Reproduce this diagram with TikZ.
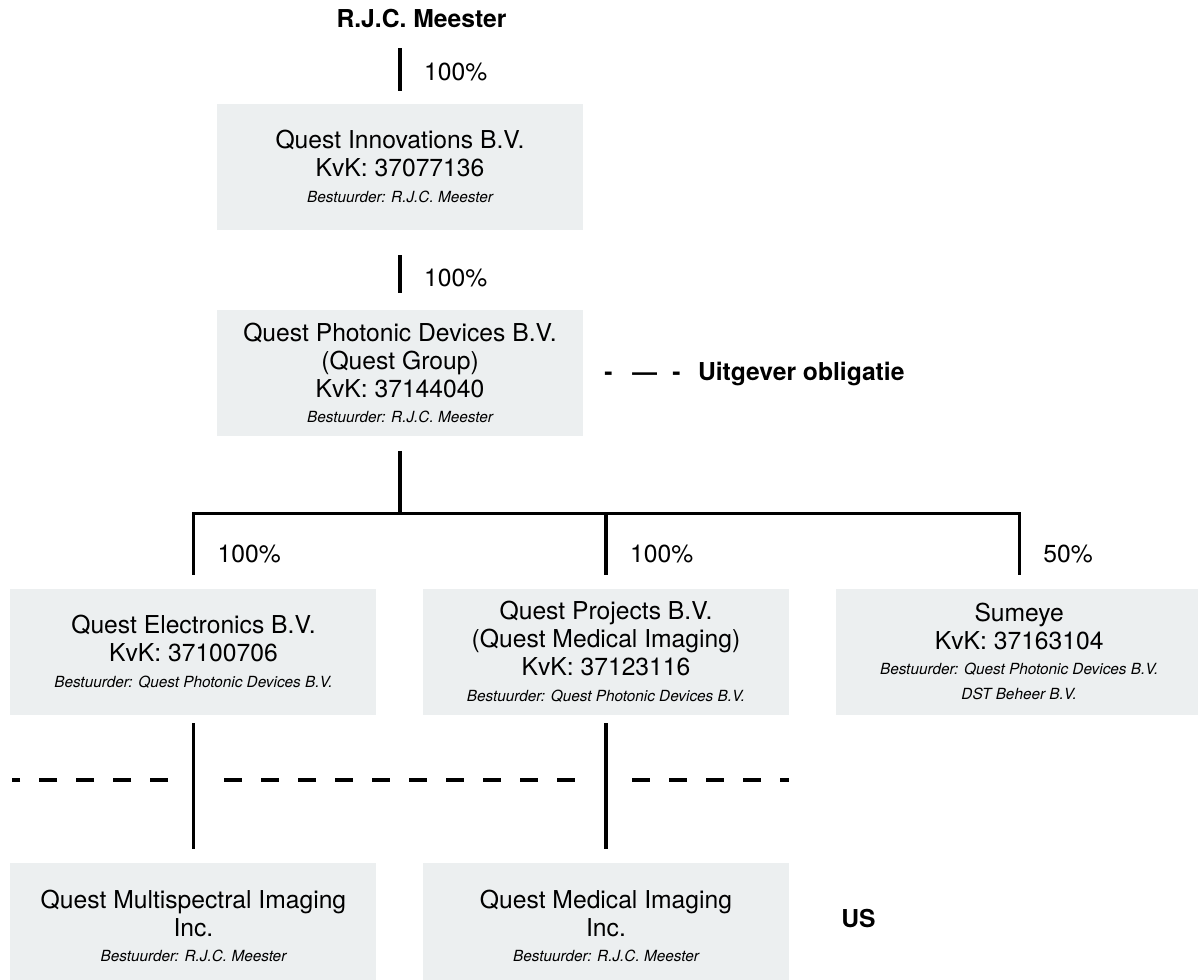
\documentclass[tikz,border=0pt]{standalone}
\usepackage{fontspec}
\setmainfont{TeX Gyre Heros}
\usetikzlibrary{positioning}
\definecolor{boxgray}{RGB}{236,239,240}
\newcommand{\klein}[1]{{\fontsize{11.5}{14}\selectfont\itshape #1}}

\begin{document}
\begin{tikzpicture}[x=0.75pt, y=-0.75pt,
	font=\fontsize{18.5}{21}\selectfont,
	company/.style={fill=boxgray, minimum width=274.5pt, minimum height=94.5pt, inner sep=0pt, align=center},
	heading/.style={font=\fontsize{18.5}{21}\selectfont\bfseries, inner sep=0pt},
	link/.style={line width=2.3pt},
	pct/.style={anchor=west, inner sep=0pt, xshift=17pt},
	border/.style={line width=2.4pt, dash pattern=on 13.5pt off 14.25pt}]
	\useasboundingbox (0,0) rectangle (1198,979);

	\node[company] (inno) at (400,166.5) {Quest Innovations B.V.\\ KvK: 37077136\\[-2pt] \klein{Bestuurder: R.J.C. Meester}};
	\node[company, below=60pt of inno] (photo) {Quest Photonic Devices B.V.\\ (Quest Group)\\ KvK: 37144040\\[-2pt] \klein{Bestuurder: R.J.C. Meester}};
	\node[company, below=114pt of photo, xshift=154.5pt] (proj) {Quest Projects B.V.\\ (Quest Medical Imaging)\\ KvK: 37123116\\[-2pt] \klein{Bestuurder: Quest Photonic Devices B.V.}};
	\node[company, left=34.5pt of proj] (elec) {Quest Electronics B.V.\\ KvK: 37100706\\[-2pt] \klein{Bestuurder: Quest Photonic Devices B.V.}};
	\node[company, right=35pt of proj] (sum) {Sumeye\\ KvK: 37163104\\[-2pt] \klein{Bestuurder: Quest Photonic Devices B.V.}\\[-2pt] \klein{DST Beheer B.V.}};
	\node[company, below=111pt of elec] (multi) {Quest Multispectral Imaging\\ Inc.\\[-2pt] \klein{Bestuurder: R.J.C. Meester}};
	\node[company, below=111pt of proj] (medi) {Quest Medical Imaging\\ Inc.\\[-2pt] \klein{Bestuurder: R.J.C. Meester}};

	\node[heading, anchor=base] (meester) at (421.5,27) {R.J.C. Meester};
	\node[heading, anchor=base west] (obl) at (604,380) {-\hspace{15pt}\textemdash\hspace{11.5pt}-\hspace{13pt}Uitgever obligatie};
	\node[heading, anchor=base west] (us) at (841,927) {US};

	\coordinate (own) at (400,48);
	\coordinate[below=58pt of photo] (fork);

	\draw[link, shorten >=9.4pt] (own) -- (inno) node[pct, pos=0.43] {100\%};
	\draw[link, shorten <=19pt, shorten >=12.4pt] (inno) -- (photo) node[pct, pos=0.6] {100\%};
	\draw[link, shorten <=10.9pt] (photo) -- (fork);
	\draw[link, line cap=rect] (elec.north |- fork) -- (sum.north |- fork);
	\foreach \b/\p in {elec/100, proj/100, sum/50}
		\draw[link, shorten >=10.1pt] (\b.north |- fork) -- (\b) node[pct, pos=0.54] {\p\%};
	\draw[link, shorten <=6.4pt, shorten >=10.1pt] (elec) -- (multi);
	\draw[link, shorten <=6.4pt, shorten >=10.1pt] (proj) -- (medi);

	\draw[border] (168,780) -- (12,780);
	\draw[border] (224,780) -- (576,780);
	\draw[border] (632,780) -- (789,780);
\end{tikzpicture}
\end{document}
